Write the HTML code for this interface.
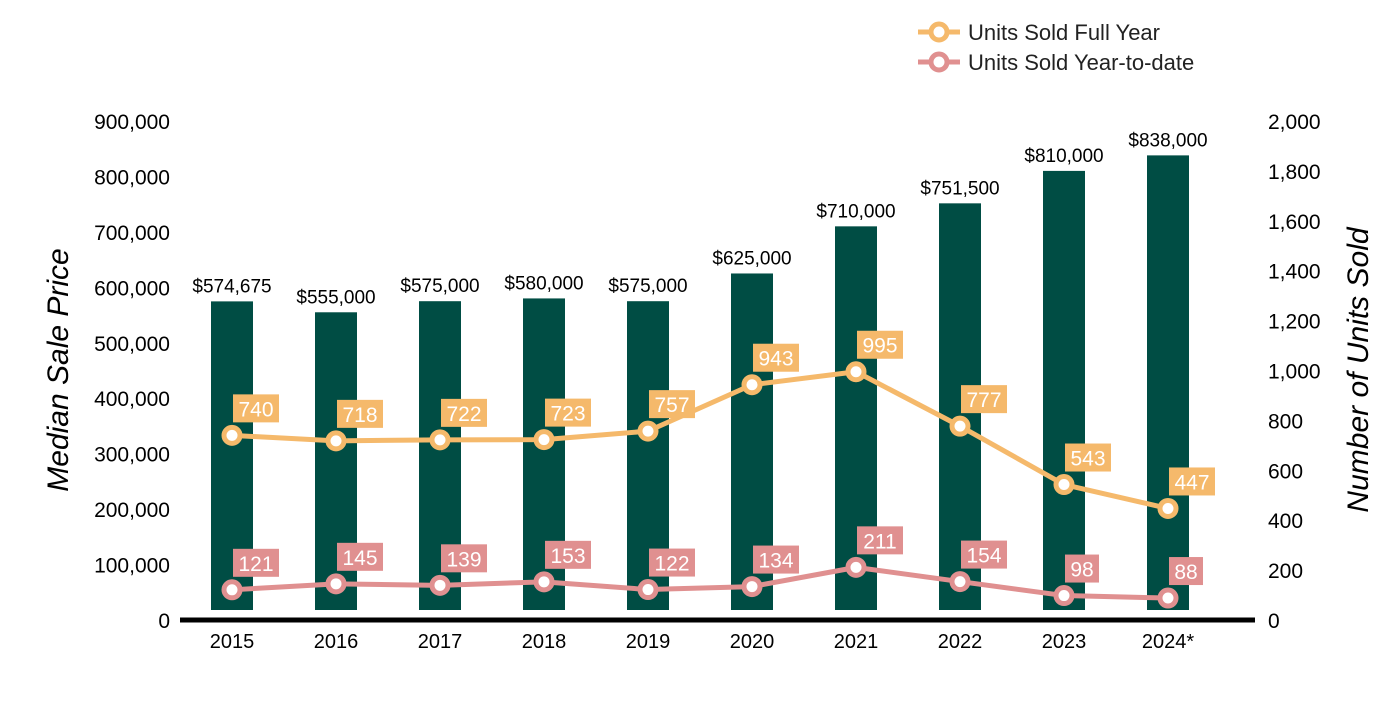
<!DOCTYPE html>
<html><head><meta charset="utf-8"><style>
html,body{margin:0;padding:0;background:#fff;}
svg text{font-family:"Liberation Sans",Arial,sans-serif;}
</style></head><body>
<svg id="chart" width="1400" height="700" xmlns="http://www.w3.org/2000/svg">
<g id="bars"></g><g id="lines"></g><g id="axes"></g>
<g>
 <g>
  <line x1="918" y1="32" x2="960" y2="32" stroke="#F5B96B" stroke-width="5"/>
  <circle cx="939" cy="32" r="8" fill="#fff" stroke="#F5B96B" stroke-width="5"/>
  <text x="968" y="40" font-size="22" fill="#222">Units Sold Full Year</text>
 </g>
 <g>
  <line x1="918" y1="62" x2="960" y2="62" stroke="#E09090" stroke-width="5"/>
  <circle cx="939" cy="62" r="8" fill="#fff" stroke="#E09090" stroke-width="5"/>
  <text x="968" y="70" font-size="22" fill="#222">Units Sold Year-to-date</text>
 </g>
</g>
<text transform="translate(68,370) rotate(-90)" text-anchor="middle" font-size="30" font-style="italic" fill="#000">Median Sale Price</text>
<text transform="translate(1368,370) rotate(-90)" text-anchor="middle" font-size="30" font-style="italic" fill="#000">Number of Units Sold</text>
</svg>
<script>
const categories=["2015","2016","2017","2018","2019","2020","2021","2022","2023","2024*"];
const prices=[574675,555000,575000,580000,575000,625000,710000,751500,810000,838000];
const priceLabels=["$574,675","$555,000","$575,000","$580,000","$575,000","$625,000","$710,000","$751,500","$810,000","$838,000"];
const fullYear=[740,718,722,723,757,943,995,777,543,447];
const ytd=[121,145,139,153,122,134,211,154,98,88];
const leftTicks=[0,100000,200000,300000,400000,500000,600000,700000,800000,900000];
const rightTicks=[0,200,400,600,800,1000,1200,1400,1600,1800,2000];
const NS="http://www.w3.org/2000/svg";
const y0=620,yTop=121;
const yL=v=>y0-(v/900000)*(y0-yTop);
const yR=v=>y0-(v/2000)*(y0-yTop);
const xC=i=>232+i*104;
function mk(tag,attrs,parent,txt){const e=document.createElementNS(NS,tag);for(const k in attrs)e.setAttribute(k,attrs[k]);if(txt!==undefined)e.textContent=txt;parent.appendChild(e);return e;}
const fmt=n=>n.toLocaleString("en-US");
const bars=document.getElementById("bars"),lines=document.getElementById("lines"),axes=document.getElementById("axes");
prices.forEach((p,i)=>{
 const top=yL(p);
 const r=mk("rect",{x:xC(i)-21,y:top,width:42,height:610-top,fill:"#004D44"},bars);
 
 
 const t=mk("text",{x:xC(i),y:top-9,"text-anchor":"middle","font-size":"19",fill:"#000"},bars,priceLabels[i]);
 
 
});
function series(vals,color,name){
 const pts=vals.map((v,i)=>xC(i)+","+yR(v)).join(" ");
 const pl=mk("polyline",{points:pts,fill:"none",stroke:color,"stroke-width":5,"stroke-linejoin":"round"},lines);
 
 
 vals.forEach((v,i)=>{
  const x=xC(i),y=yR(v);
  const c=mk("circle",{cx:x,cy:y,r:8,fill:"#fff",stroke:color,"stroke-width":5},lines);
  
  
  const s=String(v),w=s.length*12+10;
  const b=mk("rect",{x:x+1,y:y-41,width:w,height:28,fill:color},lines);
  
  
  const t=mk("text",{x:x+1+w/2,y:y-19,"text-anchor":"middle","font-size":"21",fill:"#fff"},lines,s);
  
  
 });
}
series(fullYear,"#F5B96B","full-year");
series(ytd,"#E09090","ytd");
const ax=mk("line",{x1:180,y1:620,x2:1255,y2:620,stroke:"#000","stroke-width":5},axes);


categories.forEach((c,i)=>{
 const t=mk("text",{x:xC(i),y:648,"text-anchor":"middle","font-size":"20",fill:"#000"},axes,c);
 
 
});
leftTicks.forEach(v=>{
 const t=mk("text",{x:170,y:yL(v)+8,"text-anchor":"end","font-size":"21",fill:"#000"},axes,fmt(v));
 
 
});
rightTicks.forEach(v=>{
 const t=mk("text",{x:1268,y:yR(v)+8,"text-anchor":"start","font-size":"21",fill:"#000"},axes,fmt(v));
 
 
});
</script>
</body></html>
